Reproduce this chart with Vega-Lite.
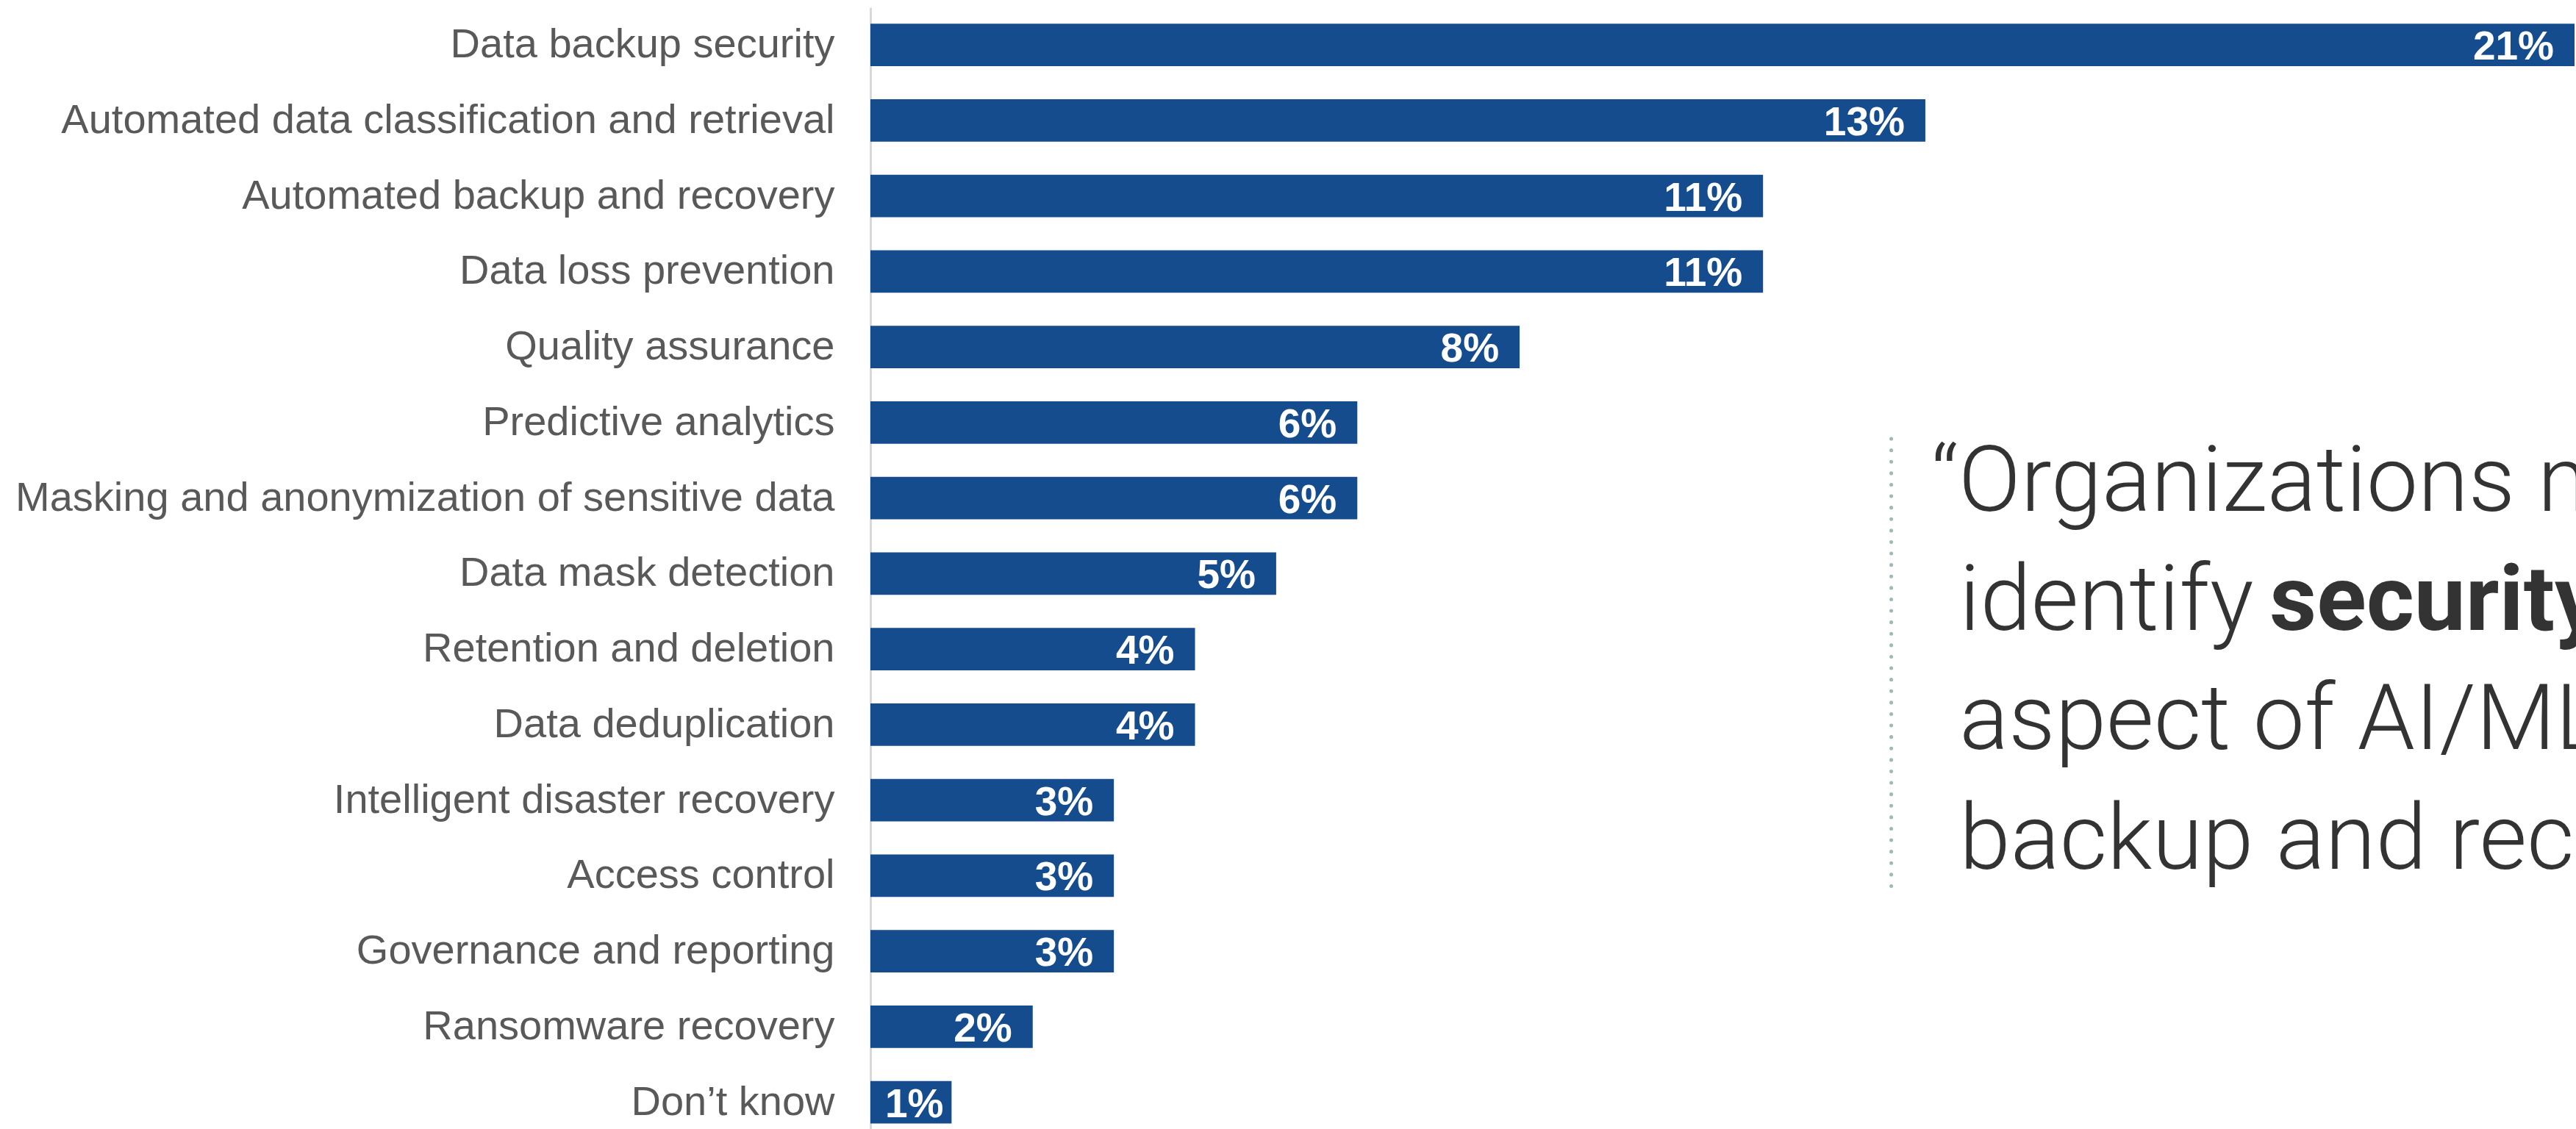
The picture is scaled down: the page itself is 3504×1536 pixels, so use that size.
{
  "$schema": "https://vega.github.io/schema/vega-lite/v6.json",
  "autosize": {"type": "none"},
  "width": 2318,
  "height": 1526,
  "padding": {"left": 1184, "right": 2, "top": 10, "bottom": 0},
  "background": "white",
  "config": {"view": {"stroke": null}},
  "layer": [
    {
      "data": {"values": [
        {"item": "Data backup security", "pct": 0.21},
        {"item": "Automated data classification and retrieval", "pct": 0.13},
        {"item": "Automated backup and recovery", "pct": 0.11},
        {"item": "Data loss prevention", "pct": 0.11},
        {"item": "Quality assurance", "pct": 0.08},
        {"item": "Predictive analytics", "pct": 0.06},
        {"item": "Masking and anonymization of sensitive data", "pct": 0.06},
        {"item": "Data mask detection", "pct": 0.05},
        {"item": "Retention and deletion", "pct": 0.04},
        {"item": "Data deduplication", "pct": 0.04},
        {"item": "Intelligent disaster recovery", "pct": 0.03},
        {"item": "Access control", "pct": 0.03},
        {"item": "Governance and reporting", "pct": 0.03},
        {"item": "Ransomware recovery", "pct": 0.02},
        {"item": "Don’t know", "pct": 0.01}
      ]},
      "encoding": {
        "y": {
          "field": "item", "type": "nominal", "sort": null,
          "scale": {"paddingInner": 0.4385, "paddingOuter": 0.145, "align": 0.75},
          "axis": {
            "title": null, "ticks": false, "tickSize": 0, "labelPadding": 49,
            "domainColor": "#d9d9d9", "domainWidth": 3,
            "labelFont": "Liberation Sans", "labelFontSize": 56, "labelColor": "#595959",
            "labelLimit": 2000
          }
        },
        "x": {"field": "pct", "type": "quantitative", "scale": {"domain": [0, 0.21], "nice": false, "zero": true}, "axis": null}
      },
      "layer": [
        {"mark": {"type": "bar", "color": "#154c8e"}},
        {
          "transform": [{"filter": "datum.pct >= 0.015"}],
          "mark": {"type": "text", "align": "right", "baseline": "middle", "dx": -28, "dy": 3, "font": "Liberation Sans", "fontWeight": "bold", "fontSize": 55, "color": "white"},
          "encoding": {"text": {"field": "pct", "type": "quantitative", "format": ".0%"}}
        },
        {
          "transform": [{"filter": "datum.pct < 0.015"}],
          "mark": {"type": "text", "align": "right", "baseline": "middle", "dx": -11, "dy": 3, "font": "Liberation Sans", "fontWeight": "bold", "fontSize": 55, "color": "white"},
          "encoding": {"text": {"field": "pct", "type": "quantitative", "format": ".0%"}}
        }
      ]
    },
    {
      "data": {"values": [
        {"t": "“Organizations need to", "xp": 0.1307, "yp": 685, "w": "light"},
        {"t": "identify", "xp": 0.1342, "yp": 847, "w": "light"},
        {"t": "security as the most", "xp": 0.1724, "yp": 847, "w": "bold"},
        {"t": "aspect of AI/ML-driven", "xp": 0.1342, "yp": 1009, "w": "light"},
        {"t": "backup and recovery.”", "xp": 0.1342, "yp": 1172, "w": "light"}
      ]},
      "encoding": {
        "x": {"field": "xp", "type": "quantitative", "scale": {"domain": [0, 0.21], "nice": false, "zero": true}, "axis": null},
        "y": {"field": "yp", "type": "quantitative", "scale": {"domain": [0, 1526], "reverse": true, "nice": false, "zero": false}, "axis": null},
        "text": {"field": "t"}
      },
      "layer": [
        {
          "transform": [{"filter": "datum.w == 'light'"}],
          "mark": {"type": "text", "align": "left", "baseline": "alphabetic", "font": "Roboto", "fontWeight": 300, "fontSize": 125, "color": "#333333"}
        },
        {
          "transform": [{"filter": "datum.w == 'bold'"}],
          "mark": {"type": "text", "align": "left", "baseline": "alphabetic", "font": "Roboto", "fontWeight": "bold", "fontSize": 125, "color": "#333333"}
        }
      ]
    },
    {
      "data": {"values": [{"xd": 0.1258, "y1": 587, "y2": 1203}]},
      "mark": {"type": "rule", "color": "#9fb8b8", "strokeWidth": 5, "strokeCap": "round", "strokeDash": [0.1, 15.5]},
      "encoding": {
        "x": {"field": "xd", "type": "quantitative", "scale": {"domain": [0, 0.21], "nice": false, "zero": true}, "axis": null},
        "y": {"field": "y1", "type": "quantitative", "scale": {"domain": [0, 1526], "reverse": true, "nice": false, "zero": false}, "axis": null},
        "y2": {"field": "y2"}
      }
    }
  ],
  "resolve": {"scale": {"y": "independent"}}
}
